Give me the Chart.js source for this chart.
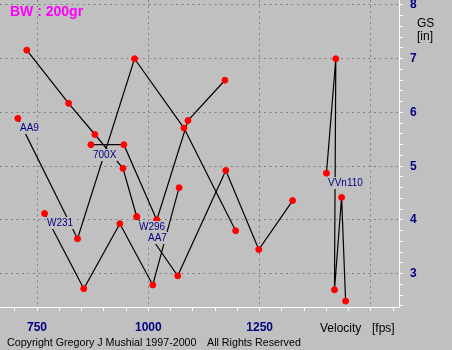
<!DOCTYPE html>
<html>
<head>
<meta charset="utf-8">
<script src="https://cdn.jsdelivr.net/npm/chart.js@4.4.0/dist/chart.umd.min.js"></script>
<style>
  html, body { margin: 0; padding: 0; background: #c0c0c0; }
  #chart { display: block; }
</style>
</head>
<body>
<canvas id="chart" width="452" height="350"></canvas>
<script>
// velocity [fps] / group size [in]
var plainVel  = [727, 821, 880, 943, 974];
var plainGs   = [7.16, 6.17, 5.59, 4.96, 4.06];
var aa9Vel    = [707, 841, 969, 1080, 1196];
var aa9Gs     = [5.89, 3.65, 7.00, 5.71, 3.80];
var x700Vel   = [871, 945, 1019];
var x700Gs    = [5.40, 5.40, 4.00];
var aa7Vel    = [1019, 1089, 1172];
var aa7Gs     = [4.00, 5.85, 6.60];
var w231Vel   = [767, 855, 936, 1010, 1069];
var w231Gs    = [4.12, 2.72, 3.93, 2.79, 4.60];
var w296Vel   = [974, 1066, 1174, 1248, 1324];
var w296Gs    = [4.06, 2.96, 4.92, 3.45, 4.36];
var vvn110Vel = [1400, 1421, 1418, 1434, 1443];
var vvn110Gs  = [4.87, 7.00, 2.70, 4.42, 2.49];

var seriesNames = ['', 'AA9', '700X', 'AA7', 'W231', 'W296', 'VVn110'];
var seriesVel = [plainVel, aa9Vel, x700Vel, aa7Vel, w231Vel, w296Vel, vvn110Vel];
var seriesGs  = [plainGs, aa9Gs, x700Gs, aa7Gs, w231Gs, w296Gs, vvn110Gs];

var xTickLabels = [750, 1000, 1250];
var yTickLabels = [3, 4, 5, 6, 7, 8];

// AA7 label got pushed under W296 in the original
var labelNudge = { 'AA7': [-11, 8] };

var tickFont = { family: '"Liberation Sans", Arial, sans-serif', size: 12, weight: 'bold' };

function whole(v) { return Math.abs(v - Math.round(v)) < 1e-6; }

var datasets = seriesNames.map(function(name, i) {
  return {
    label: name,
    data: seriesVel[i].map(function(v, j) { return { x: v, y: seriesGs[i][j] }; }),
    showLine: true,
    borderColor: '#000',
    borderWidth: 1.2,
    tension: 0,
    pointRadius: 3,
    pointBorderWidth: 1,
    pointBorderColor: '#ff0000',
    pointBackgroundColor: '#ff0000'
  };
});

var textPlugin = {
  id: 'texts',
  afterDatasetsDraw: function(chart) {
    var ctx = chart.ctx;
    ctx.save();
    ctx.font = '10px "Liberation Sans", Arial, sans-serif';
    ctx.textBaseline = 'alphabetic';
    chart.data.datasets.forEach(function(ds, i) {
      if (!ds.label) return;
      var pt = chart.getDatasetMeta(i).data[0];
      var nudge = labelNudge[ds.label] || [0, 0];
      var x = Math.round(pt.x + 2 + nudge[0]);
      var y = Math.round(pt.y + 13 + nudge[1]);
      var w = ctx.measureText(ds.label).width;
      ctx.fillStyle = '#c0c0c0';
      ctx.fillRect(x - 1, y - 9, w + 2, 12);
      ctx.fillStyle = '#000080';
      ctx.fillText(ds.label, x, y);
    });
    ctx.restore();
  },
  afterDraw: function(chart) {
    var ctx = chart.ctx;
    ctx.save();
    ctx.textBaseline = 'alphabetic';
    ctx.fillStyle = '#ff00ff';
    ctx.font = 'bold 14px "Liberation Sans", Arial, sans-serif';
    ctx.fillText('BW : 200gr', 10, 16);
    ctx.fillStyle = '#000';
    ctx.font = '12px "Liberation Sans", Arial, sans-serif';
    ctx.fillText('GS', 417, 27);
    ctx.fillText('[in]', 417, 40);
    ctx.fillText('Velocity', 320, 332);
    ctx.fillText('[fps]', 372, 332);
    ctx.font = '10.7px "Liberation Sans", Arial, sans-serif';
    ctx.fillText('Copyright Gregory J Mushial 1997-2000', 7, 346);
    ctx.fillText('All Rights Reserved', 207, 346);
    ctx.restore();
  }
};

new Chart(document.getElementById('chart'), {
  type: 'scatter',
  data: { datasets: datasets },
  plugins: [textPlugin],
  options: {
    responsive: false,
    animation: false,
    devicePixelRatio: 1,
    layout: { padding: 0, autoPadding: false },
    plugins: { legend: { display: false }, tooltip: { enabled: false } },
    scales: {
      x: {
        type: 'linear',
        position: 'bottom',
        min: 666.9,
        max: 1562.9,
        afterFit: function(s) { s.height = 43; s.paddingLeft = 0; s.paddingRight = 0; },
        grid: {
          color: function(c) { return c.tick && c.tick.value % 250 === 0 ? '#808080' : 'rgba(0,0,0,0)'; },
          lineWidth: 1,
          tickLength: 4,
          tickColor: '#ffffff'
        },
        border: { color: '#ffffff', width: 1, dash: [2, 3.5] },
        ticks: {
          stepSize: 50,
          maxTicksLimit: 30,
          includeBounds: false,
          autoSkip: false,
          maxRotation: 0,
          padding: 9,
          color: '#000080',
          font: tickFont,
          callback: function(v) { return xTickLabels.indexOf(v) >= 0 ? String(v) : ''; }
        }
      },
      y: {
        type: 'linear',
        position: 'right',
        min: 2.38,
        max: 8.093,
        afterFit: function(s) { s.width = 53; s.paddingTop = 0; s.paddingBottom = 0; },
        grid: {
          color: function(c) { return c.tick && whole(c.tick.value) ? '#808080' : 'rgba(0,0,0,0)'; },
          lineWidth: 1,
          tickLength: 4,
          tickColor: '#ffffff'
        },
        border: { color: '#ffffff', width: 1, dash: [2, 3.5] },
        ticks: {
          stepSize: 0.2,
          maxTicksLimit: 40,
          includeBounds: false,
          autoSkip: false,
          padding: 7,
          color: '#000080',
          font: tickFont,
          callback: function(v) {
            var r = Math.round(v);
            return whole(v) && yTickLabels.indexOf(r) >= 0 ? String(r) : '';
          }
        }
      }
    }
  }
});
</script>
</body>
</html>
